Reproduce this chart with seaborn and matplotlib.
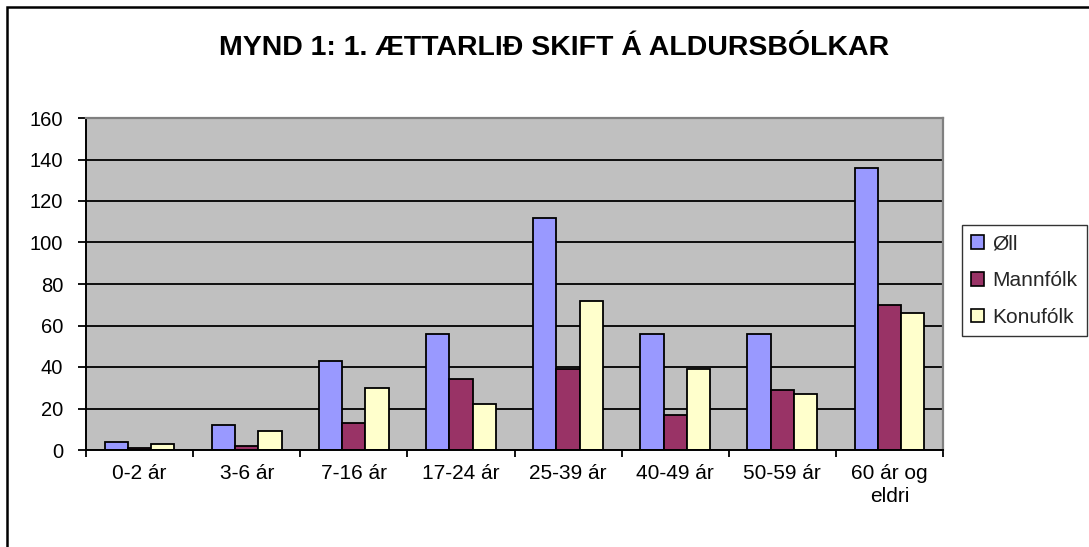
import matplotlib
matplotlib.use("Agg")
import matplotlib.pyplot as plt
import seaborn as sns
import pandas as pd
from matplotlib.patches import Rectangle

categories = ["0-2 ár", "3-6 ár", "7-16 ár", "17-24 ár", "25-39 ár", "40-49 ár", "50-59 ár", "60 ár og\neldri"]
series_names = ["Øll", "Mannfólk", "Konufólk"]
oll = [4, 12, 43, 56, 112, 56, 56, 136]
mannfolk = [1, 2, 13, 34, 39, 17, 29, 70]
konufolk = [3, 9, 30, 22, 72, 39, 27, 66]
yticks = [0, 20, 40, 60, 80, 100, 120, 140, 160]
title = "MYND 1: 1. ÆTTARLIÐ SKIFT Á ALDURSBÓLKAR"
colors = ["#9999FF", "#993366", "#FFFFCC"]

rows = []
for name, vals in zip(series_names, [oll, mannfolk, konufolk]):
    for c, v in zip(categories, vals):
        rows.append({"cat": c, "series": name, "value": v})
df = pd.DataFrame(rows)

sns.set_theme(style="white")
plt.rcParams["font.family"] = ["Liberation Sans", "DejaVu Sans"]

fig = plt.figure(figsize=(10.89, 5.47), dpi=100)
ax = fig.add_axes([86/1089, 1 - 450/547, (943-86)/1089, (450-118)/547])
ax.set_facecolor("#C0C0C0")

sns.barplot(data=df, x="cat", y="value", hue="series", order=categories,
            hue_order=series_names, palette=colors, width=0.65, gap=0,
            edgecolor="black", linewidth=1.3, ax=ax, legend=True, saturation=1)

ax.set_ylim(0, 160)
ax.set_xlim(-0.5, len(categories) - 0.5)
ax.set_yticks(yticks)
ax.set_yticklabels([str(t) for t in yticks], fontsize=14.5, color="black")
ax.yaxis.grid(True, color="black", linewidth=1.3)
ax.set_axisbelow(True)
ax.set_xlabel("")
ax.set_ylabel("")

# category labels at centres, tick marks at category boundaries
ax.set_xticks([i for i in range(len(categories))])
ax.set_xticklabels(categories, fontsize=15, linespacing=1.3, va="top", color="black")
ax.tick_params(axis="x", length=0, pad=10)
ax.set_xticks([i - 0.5 for i in range(len(categories) + 1)], minor=True)
ax.tick_params(axis="x", which="minor", length=5, width=1.3, color="black", direction="out", bottom=True)
ax.tick_params(axis="y", length=5.8, width=1.3, color="black", direction="out", left=True, pad=10.5)

for s in ["left", "bottom"]:
    ax.spines[s].set_color("black")
    ax.spines[s].set_linewidth(1.4)
for s in ["top", "right"]:
    ax.spines[s].set_color("#808080")
    ax.spines[s].set_linewidth(1.6)

leg = ax.legend(loc="upper left", bbox_to_anchor=(962/1089, 1 - 225/547), bbox_transform=fig.transFigure,
                frameon=True, fontsize=15, handlelength=0.62, handleheight=0.62, handletextpad=0.4,
                borderpad=0.45, labelspacing=0.85, borderaxespad=0, fancybox=False, edgecolor="black")
leg.get_frame().set_linewidth(1.0)
for h in leg.legend_handles:
    h.set_edgecolor("black")
    h.set_linewidth(1.2)

fig.text(554/1089, 1 - 48/547, title, ha="center", va="center", fontsize=20.5, fontweight="bold", color="black")

fig.patches.append(Rectangle((7/1089, -0.1), 1.2, 1 - 7/547 + 0.1, transform=fig.transFigure,
                             fill=False, edgecolor="black", linewidth=1.8))

fig.savefig("out.png", dpi=100)
